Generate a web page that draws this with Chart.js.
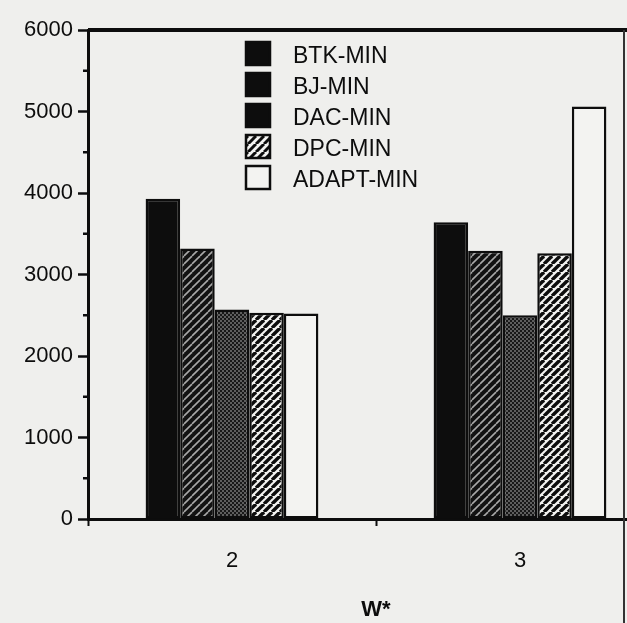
<!DOCTYPE html>
<html>
<head>
<meta charset="utf-8">
<script src="https://cdn.jsdelivr.net/npm/chart.js@4.4.1/dist/chart.umd.min.js"></script>
<style>
  html, body { margin: 0; padding: 0; background: #efefed; overflow: hidden; }
  #wrap { width: 627px; height: 623px; overflow: hidden; }
  canvas { display: block; }
</style>
</head>
<body>
<div id="wrap"><canvas id="chart" width="680" height="623"></canvas></div>
<script>
const categories  = ['2', '3']
const seriesNames = ['BTK-MIN', 'BJ-MIN', 'DAC-MIN', 'DPC-MIN', 'ADAPT-MIN']
const btkMin   = [3930, 3640]
const bjMin    = [3320, 3290]
const dacMin   = [2570, 2500]
const dpcMin   = [2530, 3260]
const adaptMin = [2520, 5060]
const yTicks      = [0, 1000, 2000, 3000, 4000, 5000, 6000]
const yMinorTicks = [500, 1500, 2500, 3500, 4500, 5500]

const INK = '#0d0d0d'
const PAPER = '#f3f3f1'
const FONT = '"Liberation Sans", Arial, Helvetica, sans-serif'

// "/" hatching, tile repeats seamlessly
function stripes(bg, fg, w) {
  const s = 8
  const c = document.createElement('canvas')
  c.width = c.height = s
  const g = c.getContext('2d')
  g.fillStyle = bg
  g.fillRect(0, 0, s, s)
  g.strokeStyle = fg
  g.lineWidth = w
  for (const k of [-s, 0, s]) {
    g.beginPath(); g.moveTo(k, s); g.lineTo(k + s, 0); g.stroke()
  }
  return g.createPattern(c, 'repeat')
}

// fine halftone checker
function dots(bg, fg) {
  const c = document.createElement('canvas')
  c.width = c.height = 4
  const g = c.getContext('2d')
  g.fillStyle = bg
  g.fillRect(0, 0, 4, 4)
  g.fillStyle = fg
  g.fillRect(0, 0, 2, 2)
  g.fillRect(2, 2, 2, 2)
  return g.createPattern(c, 'repeat')
}

const values = [btkMin, bjMin, dacMin, dpcMin, adaptMin]
const fills = [
  INK,
  stripes('#121212', '#a8a8a8', 1.6),
  dots('#181818', '#5e5e5e'),
  stripes(PAPER, INK, 3.4),
  PAPER,
]
// at legend size the first three read as solid black
const legendFills = [INK, INK, INK, stripes(PAPER, INK, 3), PAPER]

const paperLegend = {
  id: 'paperLegend',
  afterDraw(chart) {
    const ctx = chart.ctx
    ctx.save()
    ctx.font = '23px ' + FONT
    ctx.textBaseline = 'middle'
    chart.data.datasets.forEach((ds, i) => {
      const y = 42 + i * 31
      ctx.fillStyle = legendFills[i]
      ctx.fillRect(246, y, 24, 23)
      ctx.lineWidth = 2.5
      ctx.strokeStyle = INK
      ctx.strokeRect(246, y, 24, 23)
      ctx.fillStyle = INK
      ctx.fillText(ds.label, 293, y + 15)
    })
    ctx.restore()
  },
}

const frame = {
  id: 'frame',
  afterDraw(chart) {
    const { ctx, chartArea: a, scales: { y } } = chart
    ctx.save()
    ctx.strokeStyle = INK
    ctx.lineWidth = 4
    ctx.beginPath(); ctx.moveTo(a.left, a.top); ctx.lineTo(627, a.top); ctx.stroke()
    ctx.lineWidth = 2
    ctx.strokeStyle = '#333'
    ctx.beginPath(); ctx.moveTo(624, a.top); ctx.lineTo(624, chart.height); ctx.stroke()
    ctx.strokeStyle = INK
    ctx.lineWidth = 2.5
    for (const v of yMinorTicks) {
      const py = y.getPixelForValue(v)
      ctx.beginPath(); ctx.moveTo(a.left - 5, py); ctx.lineTo(a.left, py); ctx.stroke()
    }
    ctx.restore()
  },
}

new Chart(document.getElementById('chart'), {
  type: 'bar',
  data: {
    labels: categories,
    datasets: seriesNames.map((name, i) => ({
      label: name,
      data: values[i],
      backgroundColor: fills[i],
      borderColor: INK,
      borderWidth: 2.5,
      borderSkipped: false,
      categoryPercentage: 0.6,
      barPercentage: 1.0,
    })),
  },
  options: {
    responsive: false,
    animation: false,
    layout: { padding: { top: 30, right: 16, bottom: 0, left: 0 } },
    plugins: {
      legend: { display: false },
      tooltip: { enabled: false },
    },
    scales: {
      x: {
        offset: true,
        border: { display: true, color: INK, width: 3 },
        grid: { drawOnChartArea: false, tickLength: 7, tickWidth: 2, tickColor: INK },
        ticks: { color: INK, padding: 22, font: { family: FONT, size: 22 } },
        title: {
          display: true, text: 'W*', color: INK,
          font: { family: FONT, size: 22, weight: 'bold' },
          padding: { top: 0, bottom: 0 },
        },
        afterFit(scale) { scale.height = 104 },
      },
      y: {
        min: 0,
        max: 6000,
        afterBuildTicks(scale) { scale.ticks = yTicks.map(v => ({ value: v })) },
        border: { color: INK, width: 3 },
        grid: { drawOnChartArea: false, tickLength: 10, tickWidth: 2.5, tickColor: INK },
        ticks: {
          color: INK, padding: 5, font: { family: FONT, size: 22 },
          callback: v => String(v),
        },
        afterFit(scale) { scale.width = 88 },
      },
    },
  },
  plugins: [paperLegend, frame],
})
</script>
</body>
</html>
